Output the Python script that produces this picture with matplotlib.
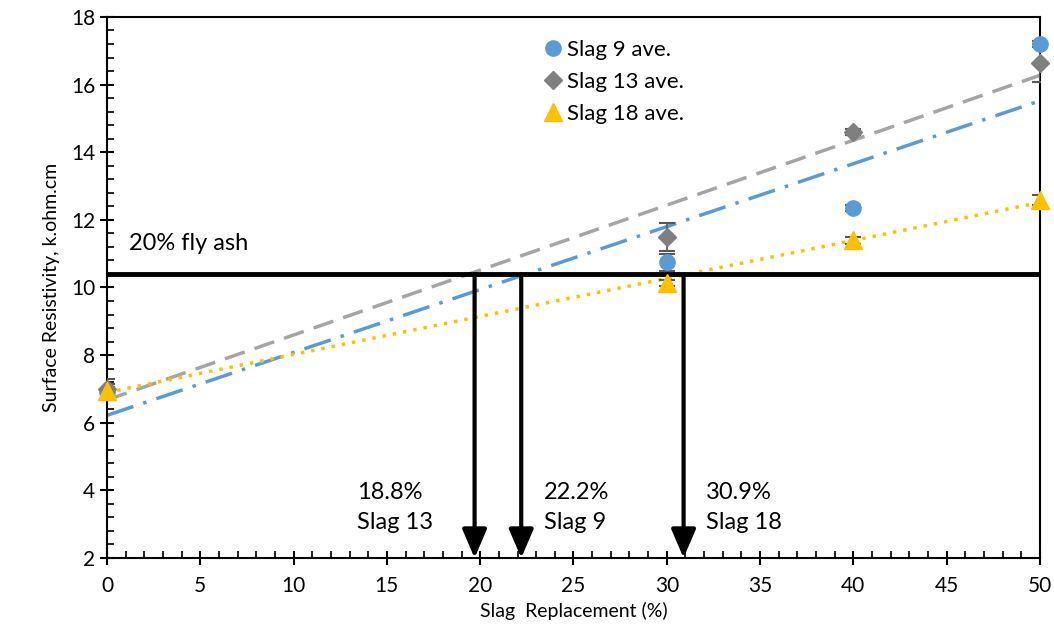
import numpy as np
from matplotlib import pyplot as plt
from matplotlib.ticker import MultipleLocator

plt.rcParams['font.family'] = ['Lato', 'DejaVu Sans']

# slag replacement levels (%)
slag_pct = [0, 30, 40, 50]

# average surface resistivity (k.ohm.cm) and error bars
slag9 = [6.9, 10.75, 12.35, 17.2]
slag9_err = [0.15, 0.25, 0.1, 0.1]
slag13 = [7.0, 11.5, 14.6, 16.64]
slag13_err = [0.3, 0.42, 0.1, 0.55]
slag18 = [6.95, 10.13, 11.4, 12.59]
slag18_err = [0.2, 0.1, 0.1, 0.15]

fly_ash_level = 10.4
cross_x = [19.7, 22.2, 30.9]
cross_labels = ['18.8%\nSlag 13', '22.2%\nSlag 9', '30.9%\nSlag 18']
label_x = [13.4, 23.4, 32.1]

blue = '#5b9bd5'
grey = '#7f7f7f'
gold = '#ffc000'

fig = plt.figure(figsize=(10.54, 6.38), dpi=100)
ax = fig.add_axes([0.1015, 0.1254, 0.8852, 0.848])

xs = np.array([0, 50])
for y, c, ls in [(slag9, blue, (0, (8, 3, 1, 3))),
                 (slag13, '#a5a5a5', (0, (6, 3))),
                 (slag18, gold, (0, (1, 2)))]:
    k, b = np.polyfit(slag_pct, y, 1)
    ax.plot(xs, k * xs + b, color=c, lw=2.5, ls=ls, zorder=2)

series = [(slag9, slag9_err, 'o', blue, 11, 'Slag 9 ave.'),
          (slag13, slag13_err, 'D', grey, 9.5, 'Slag 13 ave.'),
          (slag18, slag18_err, '^', gold, 13, 'Slag 18 ave.')]
for i, (y, e, m, c, ms, lab) in enumerate(series):
    ax.errorbar(slag_pct, y, yerr=e, fmt='none', ecolor='#595959', capsize=6,
                elinewidth=1.2, capthick=1.5, zorder=4)
    ax.plot(slag_pct, y, m, color=c, ms=ms, label=lab, clip_on=False, zorder=5 + i)

ax.axhline(fly_ash_level, color='black', lw=3.5, zorder=3)
ax.text(1.2, 11.3, '20% fly ash', fontsize=17, va='center')

for x, lab, lx in zip(cross_x, cross_labels, label_x):
    ax.annotate('', xy=(x, 2), xytext=(x, fly_ash_level),
                arrowprops=dict(arrowstyle='-|>,head_width=0.3,head_length=0.7',
                                mutation_scale=25, color='black', lw=3,
                                shrinkA=0, shrinkB=0), zorder=6)
    ax.text(lx, 3.5, lab, fontsize=17, va='center', linespacing=1.5)

ax.set_xlim(0, 50)
ax.set_ylim(2, 18)
ax.xaxis.set_major_locator(MultipleLocator(5))
ax.xaxis.set_minor_locator(MultipleLocator(1))
ax.yaxis.set_major_locator(MultipleLocator(2))
ax.yaxis.set_minor_locator(MultipleLocator(0.4))
ax.tick_params(which='major', direction='inout', length=10, width=1.5, labelsize=15)
ax.tick_params(which='minor', direction='in', length=5, width=1.2)
ax.tick_params(axis='x', pad=8)
for s in ax.spines.values():
    s.set_linewidth(1.5)

ax.set_xlabel('Slag  Replacement (%)', fontsize=14, labelpad=4)
ax.set_ylabel('Surface Resistivity, k.ohm.cm', fontsize=14, labelpad=8)

leg = ax.legend(loc='upper left', bbox_to_anchor=(0.445, 0.995), frameon=False,
                fontsize=16, handletextpad=0.1, handlelength=1.0, labelspacing=0.55)

fig.savefig('out.png', dpi=100)
